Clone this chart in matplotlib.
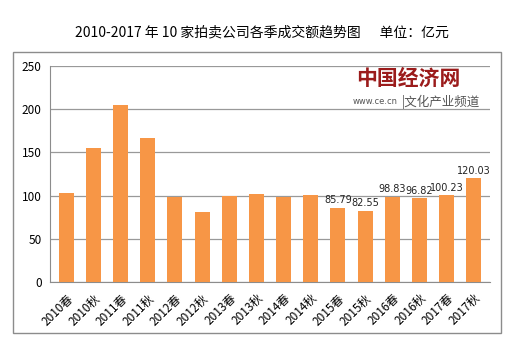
import matplotlib.pyplot as plt
from matplotlib.patches import Rectangle

plt.rcParams["font.family"] = ["Noto Sans CJK SC", "DejaVu Sans"]

periods = [
    "2010春", "2010秋", "2011春", "2011秋", "2012春", "2012秋", "2013春", "2013秋",
    "2014春", "2014秋", "2015春", "2015秋", "2016春", "2016秋", "2017春", "2017秋",
]
values = [102.5, 155.5, 205.0, 166.5, 98.0, 80.5, 99.0, 102.0,
          98.0, 101.0, 85.79, 82.55, 98.83, 96.82, 100.23, 120.03]
labelled = {10, 11, 12, 13, 14, 15}
y_ticks = [0, 50, 100, 150, 200, 250]

fig = plt.figure(figsize=(5.24, 3.54), dpi=100)
fig.patch.set_facecolor("white")
fig.patches.append(Rectangle((13 / 524, 1 - 333 / 354), 488 / 524, 281 / 354,
                             transform=fig.transFigure, fill=False,
                             edgecolor="#8c8c8c", linewidth=1.0))

ax = fig.add_axes([50 / 524, 1 - 282 / 354, 440 / 524, 216 / 354])
x = range(len(periods))
ax.bar(x, values, width=0.55, color="#F79646", zorder=3)

for i in labelled:
    ax.text(i, values[i] + 3, f"{values[i]:.2f}", ha="center", va="bottom",
            fontsize=7, color="#222222", family="DejaVu Sans", zorder=4)

ax.set_ylim(0, 250)
ax.set_xlim(-0.6, len(periods) - 0.4)
ax.set_yticks(y_ticks)
ax.set_yticklabels([str(t) for t in y_ticks], fontsize=8.5)
ax.yaxis.grid(True, color="#999999", linewidth=0.9, zorder=0)
ax.set_xticks(list(x))
ax.set_xticklabels(periods, rotation=45, ha="right", rotation_mode="anchor",
                   fontsize=8.5)
ax.tick_params(length=0, pad=6)
ax.tick_params(axis="x", pad=7)
for side in ["top", "right"]:
    ax.spines[side].set_visible(False)
ax.spines["left"].set_color("#8c8c8c")
ax.spines["bottom"].set_color("#8c8c8c")

fig.text(0.5, 1 - 32 / 354, "2010-2017 年 10 家拍卖公司各季成交额趋势图      单位：亿元",
         ha="center", va="center", fontsize=10)

# watermark
fig.text(460 / 524, 1 - 78 / 354, "中国经济网", ha="right", va="center",
         fontsize=15, color="#9b1b1b", fontweight="bold")
fig.text(398 / 524, 1 - 102 / 354, "www.ce.cn", ha="right", va="center",
         fontsize=6, color="#555555", family="DejaVu Sans")
fig.text(402 / 524, 1 - 102 / 354, "|文化产业频道", ha="left", va="center",
         fontsize=9, color="#555555")

fig.savefig("out.png", dpi=100)
